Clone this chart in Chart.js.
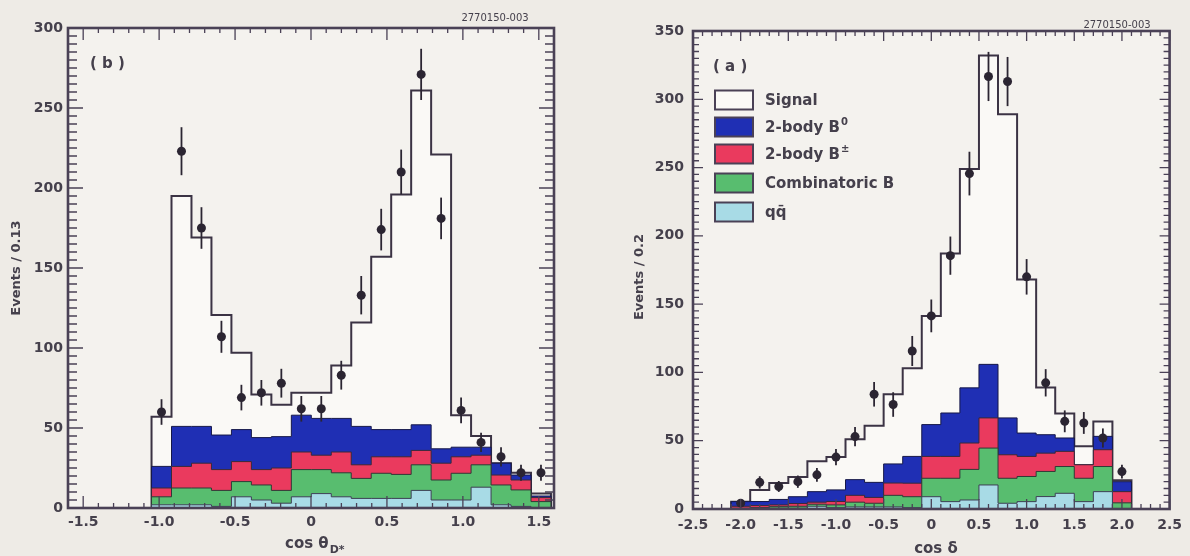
<!DOCTYPE html>
<html><head><meta charset="utf-8">
<script src="https://cdn.jsdelivr.net/npm/chart.js@4.4.1/dist/chart.umd.min.js"></script>
<style>
html,body{margin:0;padding:0;background:#eeebe6;}
#wrap{position:relative;width:1190px;height:556px;overflow:hidden;}
canvas{position:absolute;top:0;}
#cL{left:0;} #cR{left:595px;}
</style></head><body>
<div id="wrap"><canvas id="cL" width="595" height="556"></canvas><canvas id="cR" width="595" height="556"></canvas></div>
<script>
// ---------------- Panel (b): cos theta_D*  (bins of 0.13) ----------------
const binStartL = -1.05, binWidthL = 0.1315, nBinsL = 20;
const qqL      = [2, 2, 2, 1, 7, 5, 3, 7, 9, 7, 6, 6, 6, 11, 5, 5, 13, 2, 1, 0];
const combL    = [5, 10.5, 10.5, 10, 9.5, 9.4, 8, 17, 15, 15, 12.5, 15.7, 15, 16, 12.5, 16.7, 14, 12.4, 10.3, 4];
const bpmL     = [5.5, 13.5, 15.5, 13, 12.5, 9.6, 14, 11, 9, 13, 8.5, 10.3, 11, 9, 10.5, 10.3, 6, 6.2, 6.2, 2.5];
const b0L      = [13.5, 25, 23, 21.6, 20, 20, 19.6, 23, 23, 21, 24, 17, 17, 16, 9, 6, 5, 7.4, 3.1, 1];
const signalL  = [31, 144, 118, 75, 48, 27, 20, 14, 16, 33, 65, 108, 147, 209, 184, 20, 7, 0, 1.5, 1.5];
const dataL    = [60, 223, 175, 107, 69, 72, 78, 62, 62, 83, 133, 174, 210, 271, 181, 61, 41, 32, 22, 22];
const errL     = [8, 15, 13, 10, 8, 8, 9, 8, 8, 9, 12, 13, 14, 16, 13, 8, 6, 6, 5, 5];
const xTicksL  = [-1.5, -1.0, -0.5, 0, 0.5, 1.0, 1.5];
const yTicksL  = [0, 50, 100, 150, 200, 250, 300];

// ---------------- Panel (a): cos delta  (bins of 0.2) ----------------
const binStartR = -2.1, binWidthR = 0.2, nBinsR = 21;
const qqR      = [0, 0, 0.5, 0.5, 2, 1, 1.5, 1.5, 1.5, 1, 9, 5.4, 6.6, 17.6, 4.2, 5.4, 9.1, 11.5, 5.4, 12.7, 0];
const combR    = [0.5, 1, 1.2, 1.5, 1.5, 2, 3.5, 2.7, 8.5, 8, 13.5, 17.1, 22.4, 27, 18.3, 18.4, 18.4, 19.6, 17.1, 18.4, 4.5];
const bpmR     = [1.5, 1.5, 1.3, 2, 1.5, 2.5, 5, 4.3, 9, 9.9, 16, 16, 19.3, 22.1, 17.2, 14.7, 13.4, 11.1, 9.9, 12.3, 8.2];
const b0R      = [3.4, 3, 4, 5, 7.7, 8.5, 11.5, 11, 14, 19.6, 23.3, 31.8, 40.4, 39.2, 27, 17.1, 13.5, 9.8, 0, 9.8, 7.3];
const signalR  = [0, 8.5, 12, 14.5, 22.3, 24, 29.5, 41.5, 51, 64.5, 79.6, 116.7, 160.3, 226.1, 222.3, 112.4, 34.6, 18, 13.6, 10.8, 1];
const dataR    = [4.3, 19.5, 16.5, 20, 25, 38, 53, 84, 76.5, 115.7, 141.4, 185.5, 245.6, 316.7, 313, 170, 92.4, 64.2, 63, 52, 27.4];
const errR     = [2, 4.5, 4, 4.5, 5, 6, 7, 9, 9, 11, 12, 14, 16, 18, 18, 13, 10, 8, 8, 7, 5];
const xTicksR  = [-2.5, -2.0, -1.5, -1.0, -0.5, 0, 0.5, 1.0, 1.5, 2.0, 2.5];
const yTicksR  = [0, 50, 100, 150, 200, 250, 300, 350];

const legendLabels = ['Signal', '2-body B', '2-body B', 'Combinatoric B', 'q'];

// ---------------- styling ----------------
const COL = { signal:'#faf9f6', b0:'#1f2fb4', bpm:'#ea3a5e', comb:'#58bd6f', qq:'#a8dbe6' };
const FRAME = '#4a4156', TXT = '#45404c', MARK = '#2b2532';
const FONT = '"DejaVu Sans", "Liberation Sans", Arial, sans-serif';

function edges(start, w, n){ const e=[]; for(let k=0;k<=n;k++) e.push(+(start+w*k).toFixed(4)); return e; }
function cumulate(arrs){ const out=[]; let acc=arrs[0].map(()=>0); arrs.forEach(a=>{ acc=acc.map((v,i)=>v+a[i]); out.push(acc.slice()); }); return out; }
function stepPts(e, vals){ const n=vals.length; const p=[{x:e[0],y:0}]; vals.forEach((v,i)=>p.push({x:e[i],y:v})); p.push({x:e[n],y:vals[n-1]}); p.push({x:e[n],y:0}); return p; }
function centers(e){ const c=[]; for(let i=0;i<e.length-1;i++) c.push((e[i]+e[i+1])/2); return c; }

function buildDatasets(e, comps, data, errs){
  const cum = cumulate(comps); // qq, comb, bpm, b0, signal
  const cols = [COL.qq, COL.comb, COL.bpm, COL.b0, COL.signal];
  const borders = ['#3d3f55','#2f3a36','#3a2a38','#161848','#3b3344'];
  const widths = [1,1,1,1,2];
  const c = centers(e);
  const ds = [{
    label:'data', data:c.map((x,i)=>({x, y:data[i]})), errors:errs,
    showLine:false, pointRadius:4.5, pointBackgroundColor:MARK, pointBorderWidth:0, order:0
  }];
  for(let k=0;k<5;k++){
    ds.push({ label:'c'+k, data:stepPts(e, cum[k]), stepped:'before', fill:'origin',
      backgroundColor:cols[k], borderColor:borders[k], borderWidth:widths[k], pointRadius:0, order:1 });
  }
  return ds;
}

const bgPlugin = { id:'bg', beforeDraw(chart){ const {ctx, chartArea:a}=chart; ctx.save(); ctx.fillStyle='#f4f2ee'; ctx.fillRect(a.left,a.top,a.right-a.left,a.bottom-a.top); ctx.restore(); } };

const errPlugin = { id:'errs', afterDatasetsDraw(chart){
  const ctx=chart.ctx, ds=chart.data.datasets[0], meta=chart.getDatasetMeta(0), ys=chart.scales.y;
  ctx.save(); ctx.strokeStyle=MARK; ctx.lineWidth=1.8;
  meta.data.forEach((el,i)=>{ const d=ds.data[i], er=ds.errors[i];
    ctx.beginPath(); ctx.moveTo(el.x, ys.getPixelForValue(d.y+er)); ctx.lineTo(el.x, ys.getPixelForValue(Math.max(0,d.y-er))); ctx.stroke(); });
  ctx.restore(); } };

function framePlugin(cfg){ return { id:'frame', afterDraw(chart){
  const {ctx, chartArea:a, scales} = chart; const xs=scales.x, ys=scales.y;
  ctx.save(); ctx.strokeStyle=FRAME; ctx.lineWidth=1.3;
  const xmin=xs.min, xmax=xs.max, ymin=ys.min, ymax=ys.max;
  for(let k=Math.ceil(xmin/cfg.xMinor-1e-6); k*cfg.xMinor<=xmax+1e-9; k++){
    const v=k*cfg.xMinor; const major=Math.abs(v/cfg.xMajor-Math.round(v/cfg.xMajor))<1e-6;
    const px=xs.getPixelForValue(v), L=major?cfg.xMajLen:cfg.xMinLen;
    ctx.beginPath(); ctx.moveTo(px,a.bottom); ctx.lineTo(px,a.bottom-L); ctx.moveTo(px,a.top); ctx.lineTo(px,a.top+L); ctx.stroke();
  }
  for(let k=Math.ceil(ymin/cfg.yMinor-1e-6); k*cfg.yMinor<=ymax+1e-9; k++){
    const v=k*cfg.yMinor; const major=Math.abs(v/cfg.yMajor-Math.round(v/cfg.yMajor))<1e-6;
    const py=ys.getPixelForValue(v), L=major?cfg.yMajLen:cfg.yMinLen;
    ctx.beginPath(); ctx.moveTo(a.left,py); ctx.lineTo(a.left+L,py); ctx.moveTo(a.right,py); ctx.lineTo(a.right-L,py); ctx.stroke();
  }
  ctx.lineWidth=2.6; ctx.strokeRect(a.left,a.top,a.right-a.left,a.bottom-a.top);
  ctx.restore(); } }; }

function textPlugin(fn){ return { id:'txt', afterDraw(chart){ const ctx=chart.ctx; ctx.save(); fn(ctx); ctx.restore(); } }; }

function fmt(v){ return v===0 ? '0' : v.toFixed(1); }

function makeChart(id, opt){
  const e = edges(opt.binStart, opt.binWidth, opt.nBins);
  return new Chart(document.getElementById(id), {
    type:'line',
    data:{ datasets: buildDatasets(e, opt.comps, opt.data, opt.errs) },
    options:{
      responsive:false, animation:false, devicePixelRatio:1,
      layout:{ padding:opt.padding },
      plugins:{ legend:{display:false}, tooltip:{enabled:false} },
      elements:{ line:{ tension:0 } },
      scales:{
        x:{ type:'linear', min:opt.xmin, max:opt.xmax,
            grid:{display:false, drawTicks:false, tickLength:0}, border:{display:false},
            ticks:{ font:{family:FONT, weight:'bold', size:14}, color:TXT, padding:opt.xPad, maxRotation:0, autoSkip:false, callback:v=>fmt(v) },
            afterBuildTicks:s=>{ s.ticks = opt.xTicks.map(v=>({value:v})); },
            afterFit:s=>{ s.height = opt.xH; } },
        y:{ type:'linear', min:0, max:opt.ymax,
            grid:{display:false, drawTicks:false, tickLength:0}, border:{display:false},
            ticks:{ font:{family:FONT, weight:'bold', size:14}, color:TXT, padding:opt.yPad, autoSkip:false },
            afterBuildTicks:s=>{ s.ticks = opt.yTicks.map(v=>({value:v})); },
            afterFit:s=>{ s.width = opt.yW; } }
      }
    },
    plugins:[bgPlugin, errPlugin, framePlugin(opt.frame), textPlugin(opt.text)]
  });
}

// left panel (b)
makeChart('cL', {
  binStart:binStartL, binWidth:binWidthL, nBins:nBinsL,
  comps:[qqL, combL, bpmL, b0L, signalL], data:dataL, errs:errL,
  xmin:-1.6, xmax:1.6, ymax:300, xTicks:xTicksL, yTicks:yTicksL,
  padding:{top:28, right:41, left:0, bottom:0}, xH:48, yW:68, xPad:6, yPad:5,
  frame:{xMinor:0.1, xMajor:0.5, xMinLen:5, xMajLen:12, yMinor:5, yMajor:50, yMinLen:9, yMajLen:15},
  text:(ctx)=>{
    ctx.fillStyle=TXT;
    ctx.font='bold 15px '+FONT; ctx.textBaseline='alphabetic'; ctx.textAlign='left';
    ctx.fillText('( b )', 90, 68);
    ctx.font='10px '+FONT; ctx.textAlign='center'; ctx.fillText('2770150-003', 495, 21);
    ctx.font='bold 15px '+FONT; ctx.textAlign='left';
    ctx.fillText('cos θ', 285, 548);
    const w = ctx.measureText('cos θ').width;
    ctx.font='bold 11px '+FONT; ctx.fillText('D*', 285+w+1, 553);
    ctx.save(); ctx.translate(20, 268); ctx.rotate(-Math.PI/2);
    ctx.font='bold 13px '+FONT; ctx.textAlign='center'; ctx.fillText('Events / 0.13', 0, 0); ctx.restore();
  }
});

// right panel (a)
makeChart('cR', {
  binStart:binStartR, binWidth:binWidthR, nBins:nBinsR,
  comps:[qqR, combR, bpmR, b0R, signalR], data:dataR, errs:errR,
  xmin:-2.5, xmax:2.5, ymax:350, xTicks:xTicksR, yTicks:yTicksR,
  padding:{top:31, right:15, left:0, bottom:0}, xH:47, yW:98, xPad:8, yPad:9,
  frame:{xMinor:0.1, xMajor:0.5, xMinLen:5, xMajLen:10, yMinor:5, yMajor:50, yMinLen:6, yMajLen:10},
  text:(ctx)=>{
    ctx.fillStyle=TXT;
    ctx.font='bold 15px '+FONT; ctx.textBaseline='alphabetic'; ctx.textAlign='left';
    ctx.fillText('( a )', 118, 71);
    ctx.font='10px '+FONT; ctx.textAlign='center'; ctx.fillText('2770150-003', 522, 28);
    ctx.font='bold 15px '+FONT; ctx.textAlign='center';
    ctx.fillText('cos δ', 341, 553);
    ctx.save(); ctx.translate(48, 277); ctx.rotate(-Math.PI/2);
    ctx.font='bold 13px '+FONT; ctx.textAlign='center'; ctx.fillText('Events / 0.2', 0, 0); ctx.restore();
    // legend
    const rows=[100,127,154,183,212];
    const fills=[COL.signal, COL.b0, COL.bpm, COL.comb, COL.qq];
    const sups=['', '0', '±', '', ''];
    rows.forEach((cy,i)=>{
      ctx.fillStyle=fills[i]; ctx.fillRect(120, cy-9.5, 38, 19);
      ctx.strokeStyle=FRAME; ctx.lineWidth=2; ctx.strokeRect(120, cy-9.5, 38, 19);
      ctx.fillStyle=TXT; ctx.font='bold 15px '+FONT; ctx.textAlign='left';
      const base = cy+5;
      let label = legendLabels[i];
      ctx.fillText(label, 170, base);
      let w = ctx.measureText(label).width;
      if(sups[i]){ ctx.font='bold 10px '+FONT; ctx.fillText(sups[i], 170+w+1, base-7); }
      if(i===4){ ctx.fillText('q\u0304', 170+w, base); }
    });
  }
});
</script>
</body></html>
